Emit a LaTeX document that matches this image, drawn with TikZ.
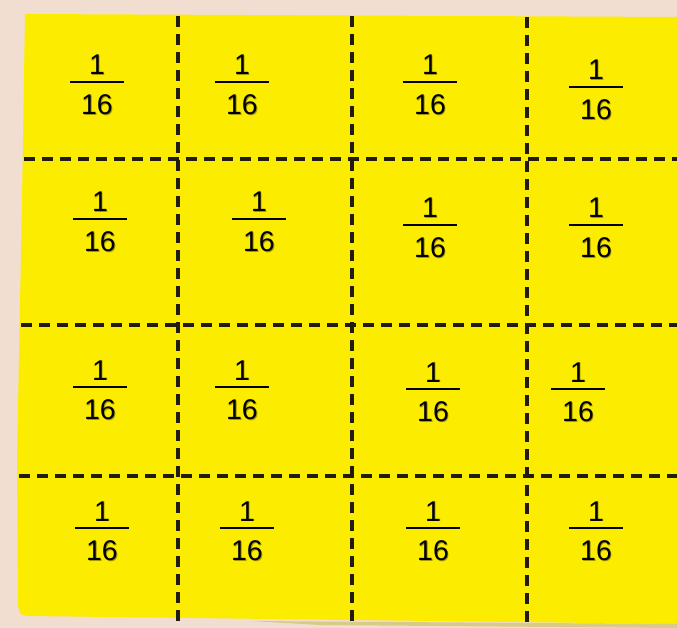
\documentclass[tikz,border=0pt]{standalone}
\usepackage{fontspec}
\setmainfont{Liberation Sans}
\definecolor{bgbeige}{RGB}{241,222,208}
\definecolor{paper}{RGB}{252,236,0}
\definecolor{dashcol}{RGB}{34,27,16}
\tikzset{
  cutline/.style={draw=dashcol,line width=4.2pt,dash pattern=on 11pt off 7pt},
  fracnum/.style={anchor=base,inner sep=0pt,font=\fontsize{28.5}{28.5}\selectfont,text=black},
  fracshadow/.style={fracnum,text=black,opacity=0.35},
  fracbar/.style={draw=black,line width=2pt},
}
\newcommand\fracat[3]{%
  \node[fracshadow] (#1ns) at (#2+0.9,#3-7+0.9) {1};
  \node[fracshadow] (#1ds) at (#2+0.9,#3+32.5+0.9) {16};
  \node[fracnum] (#1n) at (#2,#3-7) {1};
  \node[fracnum] (#1d) at (#2,#3+32.5) {16};
  \coordinate (#1l) at (#2-27,#3);
  \coordinate (#1r) at (#2+27,#3);
  \draw[fracbar] (#1l) -- (#1r);
}
\begin{document}
\begin{tikzpicture}[x=1pt,y=-1pt]
\useasboundingbox (0,0) rectangle (677,628);
\fill[bgbeige] (0,0) rectangle (677,628);
% paper
\fill[paper] (25,14) -- (677,17) -- (677,624) -- (30,616) .. controls (20,615) .. (18,605) -- (17,460) -- (22,200) -- cycle;
\fill[black!30!paper,opacity=0.35] (250,621) -- (677,624) -- (677,628) -- (320,625) -- cycle;
% cut lines
\coordinate (v1t) at (178,16); \coordinate (v1b) at (178,628);
\coordinate (v2t) at (352,16); \coordinate (v2b) at (352,628);
\coordinate (v3t) at (527,17); \coordinate (v3b) at (527,624);
\coordinate (h1l) at (24,159); \coordinate (h1r) at (677,159);
\coordinate (h2l) at (21,325); \coordinate (h2r) at (677,325);
\coordinate (h3l) at (19,476); \coordinate (h3r) at (677,476);
\draw[cutline] (v1t) -- (v1b);
\draw[cutline] (v2t) -- (v2b);
\draw[cutline] (v3t) -- (v3b);
\draw[cutline] (h1l) -- (h1r);
\draw[cutline] (h2l) -- (h2r);
\draw[cutline] (h3l) -- (h3r);
% fractions
\fracat{a1}{97}{82}
\fracat{a2}{242}{82}
\fracat{a3}{430}{82}
\fracat{a4}{596}{87}
\fracat{b1}{100}{219}
\fracat{b2}{259}{219}
\fracat{b3}{430}{225}
\fracat{b4}{596}{225}
\fracat{c1}{100}{387}
\fracat{c2}{242}{387}
\fracat{c3}{433}{389}
\fracat{c4}{578}{389}
\fracat{d1}{102}{528}
\fracat{d2}{247}{528}
\fracat{d3}{433}{528}
\fracat{d4}{596}{528}
\end{tikzpicture}
\end{document}
